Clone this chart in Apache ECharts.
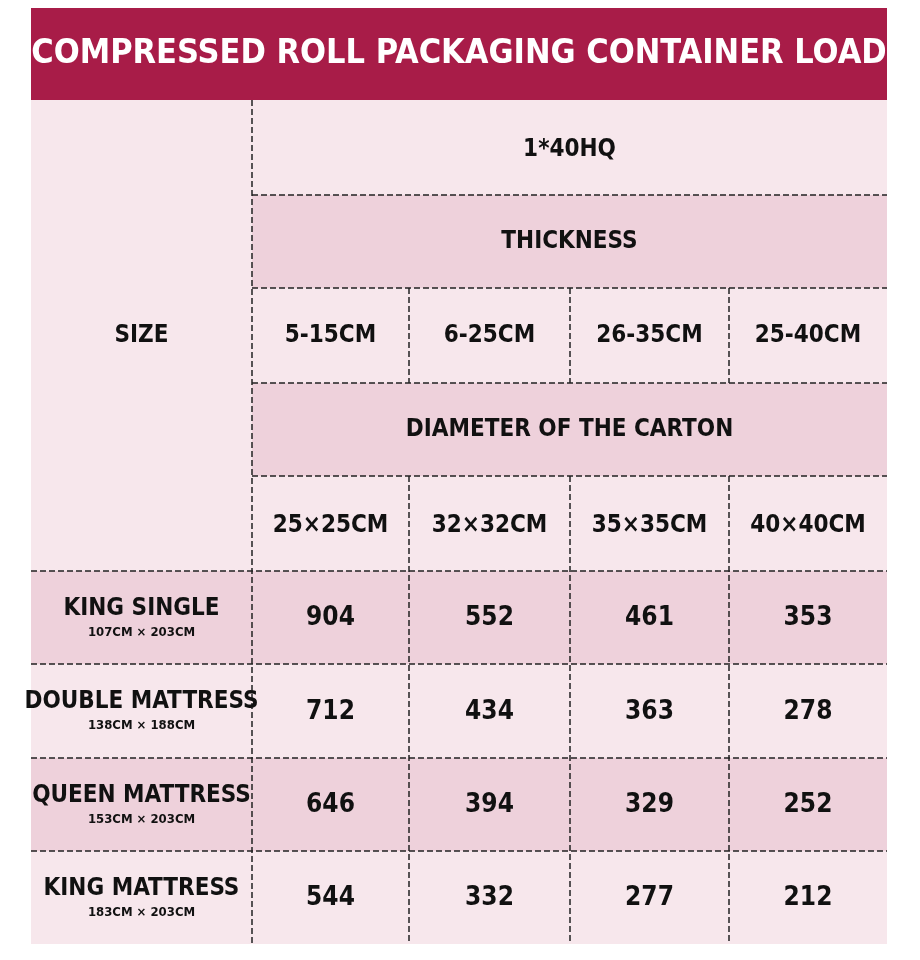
<!DOCTYPE html>
<html><head><meta charset="utf-8">
<script src="https://cdn.jsdelivr.net/npm/echarts@6/dist/echarts.min.js"></script>
<style>html,body{margin:0;background:#fff}#c{width:920px;height:960px}</style>
</head><body><div id="c"></div>
<script>
const title = "COMPRESSED ROLL PACKAGING CONTAINER LOAD";
const container = "1*40HQ";
const thicknessLabel = "THICKNESS";
const thicknesses = ["5-15CM", "6-25CM", "26-35CM", "25-40CM"];
const diameterLabel = "DIAMETER OF THE CARTON";
const diameters = ["25×25CM", "32×32CM", "35×35CM", "40×40CM"];
const sizes = ["KING SINGLE", "DOUBLE MATTRESS", "QUEEN MATTRESS", "KING MATTRESS"];
const dims = ["107CM × 203CM", "138CM × 188CM", "153CM × 203CM", "183CM × 203CM"];
const kingSingle = [904, 552, 461, 353];
const doubleM = [712, 434, 363, 278];
const queenM = [646, 394, 329, 252];
const kingM = [544, 332, 277, 212];
const values = [kingSingle, doubleM, queenM, kingM];

const FONT = '"DejaVu Sans Condensed","Liberation Sans Narrow","Roboto Condensed",sans-serif';
const L = 31, R = 887, C0 = 252;
const colX = [252, 409, 570, 729, 887];
const rowY = [100, 195, 288, 383, 476, 571, 664, 758, 851, 944];
const LIGHT = '#F7E7EC', DARK = '#EED1DB', RED = '#A81C48', INK = '#111';
const g = [];
g.push({type:'rect', shape:{x:L,y:8,width:R-L,height:92}, style:{fill:RED}});
g.push({type:'text', x:(L+R)/2, y:54, style:{text:title, fill:'#fff', font:'bold 34px '+FONT, align:'center', verticalAlign:'middle'}});
g.push({type:'rect', shape:{x:L,y:100,width:R-L,height:844}, style:{fill:LIGHT}});
g.push({type:'rect', shape:{x:C0,y:rowY[1],width:R-C0,height:rowY[2]-rowY[1]}, style:{fill:DARK}});
g.push({type:'rect', shape:{x:C0,y:rowY[3],width:R-C0,height:rowY[4]-rowY[3]}, style:{fill:DARK}});
[5,7].forEach(i=>g.push({type:'rect', shape:{x:L,y:rowY[i],width:R-L,height:rowY[i+1]-rowY[i]}, style:{fill:DARK}}));
const dash = {stroke:'#222', lineWidth:1.5, lineDash:[6,3]};
function hl(x1,x2,y){g.push({type:'line', shape:{x1,y1:y,x2,y2:y}, style:dash});}
function vl(x,y1,y2){g.push({type:'line', shape:{x1:x,y1,x2:x,y2}, style:dash});}
[1,2,3,4].forEach(i=>hl(C0,R,rowY[i]));
[5,6,7,8].forEach(i=>hl(L,R,rowY[i]));
vl(C0,100,944);
[1,2,3].forEach(j=>{vl(colX[j],rowY[2],rowY[3]); vl(colX[j],rowY[4],944);});
function txt(x,y,s,size){g.push({type:'text', x, y, style:{text:s, fill:INK, font:'bold '+size+'px '+FONT, align:'center', verticalAlign:'middle'}});}
const midX = (C0+R)/2;
txt(midX,150,container,24);
txt(midX,242,thicknessLabel,24);
txt(midX,430,diameterLabel,24);
txt((L+C0)/2,336,"SIZE",24);
for(let j=0;j<4;j++){
  const cx=(colX[j]+colX[j+1])/2;
  txt(cx,336,thicknesses[j],24);
  txt(cx,526,diameters[j],24);
}
for(let i=0;i<4;i++){
  const cy=(rowY[5+i]+rowY[6+i])/2;
  txt((L+C0)/2,cy-9,sizes[i],24);
  txt((L+C0)/2,cy+15,dims[i],13);
  for(let j=0;j<4;j++) txt((colX[j]+colX[j+1])/2,cy+1,String(values[i][j]),26);
}
const chart = echarts.init(document.getElementById('c'));
chart.setOption({animation:false, graphic:{elements:g}});
</script></body></html>
